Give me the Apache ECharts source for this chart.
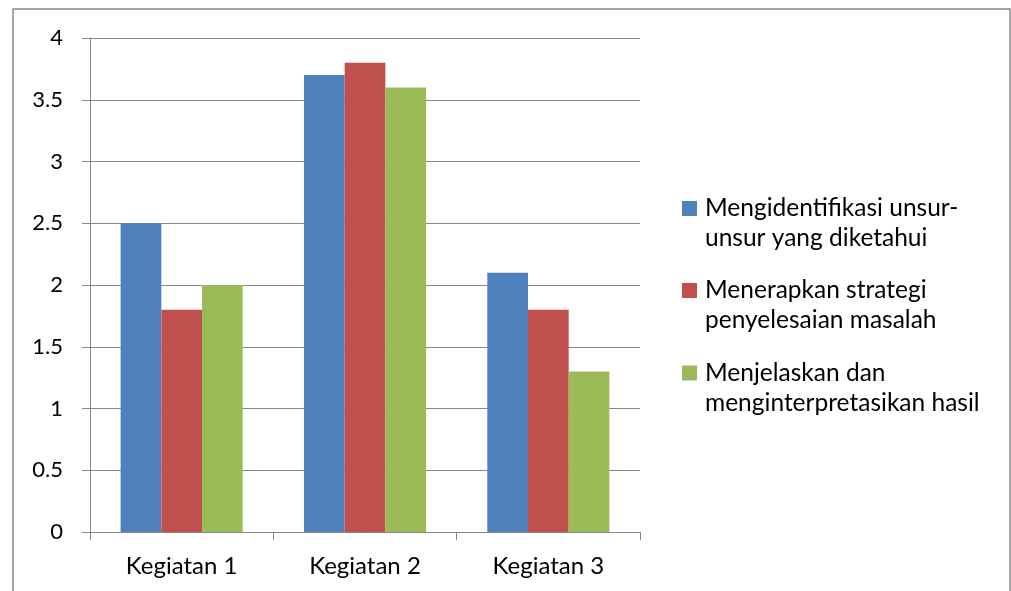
<!DOCTYPE html>
<html>
<head>
<meta charset="utf-8">
<script src="https://cdn.jsdelivr.net/npm/echarts@6/dist/echarts.min.js"></script>
<style>
html,body{margin:0;padding:0;background:#fff;}
#c{width:1011px;height:591px;}
</style>
</head>
<body>
<div id="c"></div>
<script>
var categories = ['Kegiatan 1', 'Kegiatan 2', 'Kegiatan 3'];
var seriesNames = ['Mengidentifikasi unsur-\nunsur yang diketahui', 'Menerapkan strategi\npenyelesaian masalah', 'Menjelaskan dan\nmenginterpretasikan hasil'];
var blueValues = [2.5, 3.7, 2.1];
var redValues = [1.8, 3.8, 1.8];
var greenValues = [2.0, 3.6, 1.3];
var yTicks = [0, 0.5, 1, 1.5, 2, 2.5, 3, 3.5, 4];
var colors = ['#4F81BD', '#C0504D', '#9BBB59'];

var FONT = 'Lato';
var chart = echarts.init(document.getElementById('c'), null, {renderer: 'canvas'});
var values = [blueValues, redValues, greenValues];
var LH = 30;
var legendTops = [208.5, 290.5, 373];
var legends = seriesNames.map(function (n, i) {
  return {
    data: [n],
    orient: 'vertical',
    left: 682,
    top: legendTops[i] - 1.5 * LH,
    itemWidth: 15,
    itemHeight: 15,
    itemGap: 0,
    icon: 'rect',
    selectedMode: false,
    padding: 0,
    formatter: function (name) { return ' \n' + name; },
    textStyle: {
      fontFamily: FONT,
      fontSize: 24.5,
      color: '#000',
      lineHeight: LH,
      padding: [0, 0, 0, 3]
    }
  };
});

chart.setOption({
  animation: false,
  backgroundColor: '#fff',
  graphic: [{
    type: 'rect',
    shape: {x: 13, y: 9, width: 997, height: 600},
    style: {fill: 'none', stroke: '#888', lineWidth: 1.5},
    silent: true
  }],
  legend: legends,
  grid: {left: 90, right: 371, top: 38, bottom: 59, containLabel: false},
  xAxis: {
    type: 'category',
    data: categories,
    axisLine: {lineStyle: {color: '#868686', width: 1}},
    axisTick: {show: true, length: 8, lineStyle: {color: '#868686'}},
    axisLabel: {fontFamily: FONT, fontSize: 24, color: '#000', margin: 22}
  },
  yAxis: {
    type: 'value',
    min: 0,
    max: 4,
    interval: 0.5,
    axisLine: {show: true, lineStyle: {color: '#868686', width: 1}},
    axisTick: {show: true, length: 8, lineStyle: {color: '#868686'}},
    axisLabel: {fontFamily: FONT, fontSize: 22, color: '#000', margin: 27,
      formatter: function (v) { return yTicks.indexOf(v) >= 0 ? String(v) : ''; }},
    splitLine: {show: true, lineStyle: {color: '#868686', width: 1}}
  },
  series: values.map(function (vals, i) {
    return {
      name: seriesNames[i],
      type: 'bar',
      data: vals,
      barGap: '0%',
      barCategoryGap: '33.4%',
      itemStyle: {color: colors[i]}
    };
  })
});
</script>
</body>
</html>
